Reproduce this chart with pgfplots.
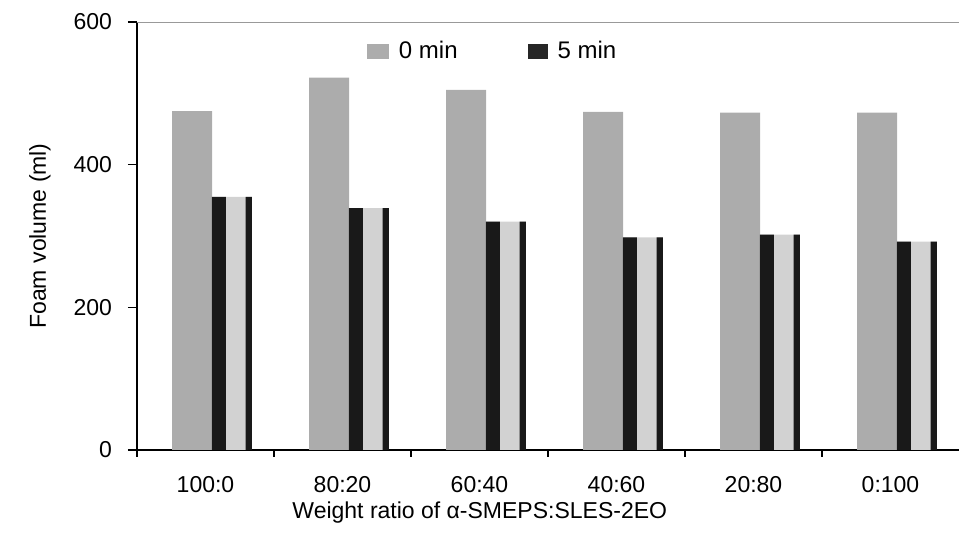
\documentclass[border=0pt]{standalone}
\usepackage{fontspec}
\setmainfont{Liberation Sans}
\usepackage{pgfplots}
\usepackage{pgfplotstable}
\pgfplotsset{compat=1.18}
\usetikzlibrary{calc}
\definecolor{zerogray}{HTML}{ACACAC}
\definecolor{fivelight}{HTML}{D2D2D2}

% foam volume (ml) after 0 and 5 min
\pgfplotstableread{
x zero five
0 475 355
1 522 339
2 505 320
3 474 298
4 473 302
5 473 292
}\foam

\begin{document}
\fontsize{11.5}{13}\selectfont
\begin{tikzpicture}
\begin{axis}[
  scale only axis, width=411pt, height=214pt,
  xmin=-0.5, xmax=5.5, ymin=0, ymax=600,
  axis x line*=bottom, axis y line*=left,
  axis line style={line width=0.6pt, black},
  ytick={0,200,400,600},
  xtick={0,...,5},
  xticklabels={100:0,80:20,60:40,40:60,20:80,0:100},
  minor xtick={-0.5,0.5,1.5,2.5,3.5,4.5},
  tick align=outside,
  major tick length=4.5pt, minor tick length=3.5pt,
  tick style={line width=0.6pt, black},
  major x tick style={draw=none},
  xticklabel style={yshift=-4.5pt},
  yticklabel style={xshift=-4pt},
  /pgf/number format/assume math mode=true,
  ylabel={Foam volume (ml)},
  xlabel={Weight ratio of α-SMEPS:SLES-2EO},
  ylabel style={at={(axis description cs:-0.118,0.5)}, anchor=center},
  xlabel style={at={(axis description cs:0.417,-0.145)}, anchor=center},
  legend style={at={(axis description cs:0.272,0.93)}, anchor=west,
    draw=none, fill=none, legend columns=2, font=\fontsize{12}{14}\selectfont,
    /tikz/every odd column/.append style={column sep=3pt},
    /tikz/every even column/.append style={column sep=33pt}},
]
  \addplot[ybar, bar width=0.292, bar shift=-0.098, fill=zerogray, draw=none,
    legend image code/.code={\fill[zerogray] (0pt,-3.5pt) rectangle (11pt,4pt);}]
    table[x=x, y=zero] {\foam};
  \addlegendentry{0 min}
  \addplot[ybar, bar width=0.292, bar shift=0.193, fill=fivelight, draw=none,
    legend image code/.code={\fill[black!85] (0pt,-3.5pt) rectangle (10pt,4pt);}]
    table[x=x, y=five] {\foam};
  \addlegendentry{5 min}
  \addplot[ybar, forget plot, bar width=0.102, bar shift=0.098, fill=black!90, draw=none]
    table[x=x, y=five] {\foam};
  \addplot[ybar, forget plot, bar width=0.045, bar shift=0.316, fill=black!90, draw=none]
    table[x=x, y=five] {\foam};
  \draw[gray!80, line width=0.6pt] (rel axis cs:0,1) -- (rel axis cs:1,1);
\end{axis}
\pgfresetboundingbox
\path ($(current axis.south west)+(-68.5pt,-47.5pt)$) rectangle ($(current axis.north east)+(0pt,11pt)$);
\end{tikzpicture}
\end{document}
